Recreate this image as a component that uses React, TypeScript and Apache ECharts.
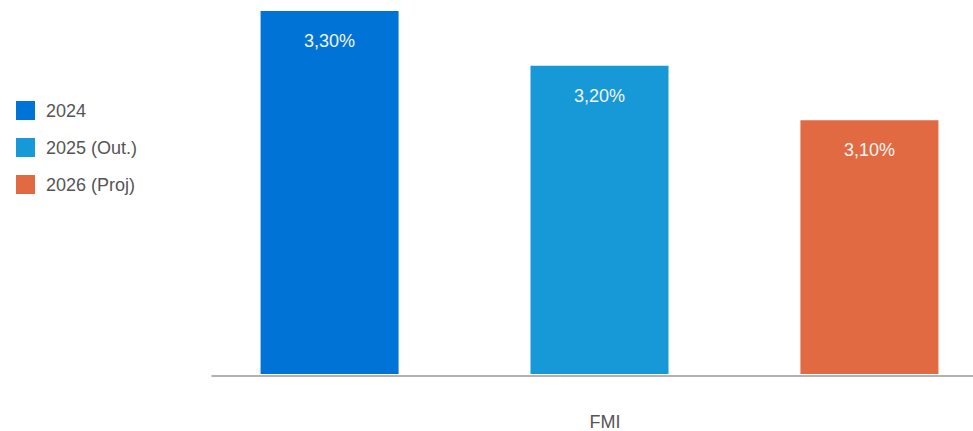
import React, { useEffect, useRef } from "react";
import * as echarts from "echarts";

const categories = ["FMI"];
const seriesNames = ["2024", "2025 (Out.)", "2026 (Proj)"];
const seriesValues = [[3.3], [3.2], [3.1]];
const colors = ["#0073d6", "#1699d6", "#e16a42"];

export default function App() {
  const ref = useRef<HTMLDivElement>(null);
  useEffect(() => {
    const chart = echarts.init(ref.current!, undefined, { renderer: "svg" });
    chart.setOption({
      animation: false,
      textStyle: { fontFamily: "Liberation Sans, Arial, sans-serif" },
      legend: {
        orient: "vertical",
        left: 16,
        top: 101,
        padding: 0,
        itemWidth: 19,
        itemHeight: 19,
        itemGap: 18,
        icon: "rect",
        textStyle: { fontSize: 18, color: "#555", lineHeight: 19, padding: [0, 0, 0, 6] },
        data: seriesNames,
      },
      grid: [
        { left: 212, top: 11, bottom: 55, right: 0 },
        { left: 226, top: 11, bottom: 55, right: 0 },
      ],
      xAxis: [
        {
          type: "category",
          gridIndex: 0,
          data: categories,
          axisLine: { lineStyle: { color: "#999", width: 1.5 } },
          axisTick: { show: false },
          axisLabel: { show: false },
        },
        {
          type: "category",
          gridIndex: 1,
          data: categories,
          axisLine: { show: false },
          axisTick: { show: false },
          axisLabel: { fontSize: 18, color: "#555", margin: 39, padding: [0, 0, 0, 11] },
        },
      ],
      yAxis: [
        { type: "value", gridIndex: 0, min: 2.636, max: 3.3, show: false, splitLine: { show: false } },
        { type: "value", gridIndex: 1, min: 2.636, max: 3.3, show: false, splitLine: { show: false } },
      ],
      series: seriesNames.map((name, i) => ({
        name,
        type: "bar",
        xAxisIndex: 1,
        yAxisIndex: 1,
        data: seriesValues[i],
        barWidth: 138,
        barGap: "95.6%",
        itemStyle: { color: colors[i] },
        label: {
          show: true,
          position: "insideTop",
          distance: 21,
          fontSize: 18,
          color: "#f4f4f4",
          formatter: (p: any) => p.value.toFixed(2).replace(".", ",") + "%",
        },
      })),
    });
    return () => chart.dispose();
  }, []);
  return <div ref={ref} style={{ width: 973, height: 431, position: "absolute", left: 0, top: 0 }} />;
}
